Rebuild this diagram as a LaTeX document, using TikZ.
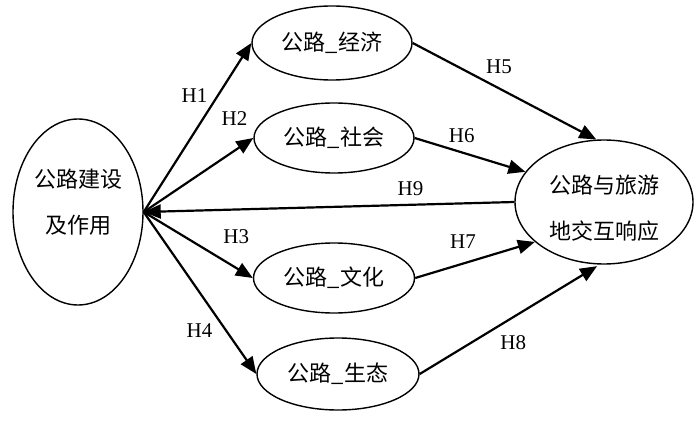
\documentclass[tikz,border=0pt]{standalone}
\usepackage{fontspec}
\setmainfont{Liberation Serif}
\newfontfamily\cjk{Noto Sans CJK SC}
\usetikzlibrary{shapes.geometric,arrows.meta}

\tikzset{
  factor/.style={ellipse, draw, line width=1.4pt, inner sep=0pt, align=center,
    font=\cjk\fontsize{22}{46}\selectfont},
  link/.style={line width=2.2pt, -{Triangle[length=17pt,width=14pt]}},
  hyp/.style={font=\fontsize{21}{24}\selectfont, inner sep=0pt}
}

\begin{document}
\begin{tikzpicture}[x=1pt,y=-1pt]
\useasboundingbox (0,0) rectangle (700,430);
% the road on the left, the interaction on the right,
% and the four effects of the road in between
\node[factor, minimum width=130pt, minimum height=186pt] (road) at (78,212)
  {\raisebox{6pt}[0pt][0pt]{\begin{tabular}{@{}c@{}}公路建设\\及作用\end{tabular}}};
\node[factor, minimum width=178pt, minimum height=124pt] (inter) at (604,202)
  {\raisebox{-10.5pt}[0pt][0pt]{\begin{tabular}{@{}c@{}}公路与旅游\\地交互响应\end{tabular}}};
\node[factor, minimum width=160pt, minimum height=74pt] (econ) at (332,43) {公路\_经济};
\node[factor, minimum width=160pt, minimum height=70pt] (soc) at (334,138) {公路\_社会};
\node[factor, minimum width=161pt, minimum height=70pt] (cult) at (334,278) {公路\_文化};
\node[factor, minimum width=162pt, minimum height=72pt] (eco) at (338,374) {公路\_生态};

% from the road to each effect
\draw[link] (road.east) -- node[hyp, pos=0.686, shift={(-23,0)}] (h1) {H1} (econ.west);
\draw[link] (road.east) -- node[hyp, pos=0.829, shift={(0,-31.7)}] (h2) {H2} (soc.west);
\draw[link] (road.east) -- node[hyp, pos=0.848, shift={(0,-31)}] (h3) {H3} (cult.west);
\draw[link] (road.east) -- node[hyp, pos=0.735, shift={(-27,0)}] (h4) {H4} (eco.west);
% from each effect to the interaction
\draw[link] (econ.east) -- node[hyp, pos=0.47, shift={(0,-21.6)}] (h5) {H5} (inter.97);
\draw[link] (soc.east) -- node[hyp, pos=0.425, shift={(0,-17)}] (h6) {H6} (inter.159);
\draw[link] (cult.east) -- node[hyp, pos=0.4, shift={(0,-22.4)}] (h7) {H7} (inter.210);
\draw[link, shorten >=3pt] (eco.east) -- node[hyp, pos=0.52, shift={(0,25.6)}] (h8) {H8} (inter.266);
% and back again
\draw[link] (inter.west) -- node[hyp, pos=0.28, shift={(0,-16)}] (h9) {H9} (road.east);
\end{tikzpicture}
\end{document}
